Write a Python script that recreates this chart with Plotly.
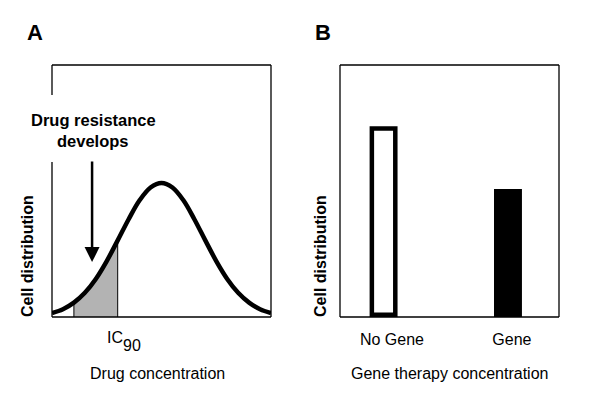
import plotly.graph_objects as go

# ---- Panel A data ----
curve_x = [0, 0.5, 1, 1.5, 2, 2.5, 3, 3.5, 4, 4.5, 5, 5.5, 6, 6.5, 7, 7.5, 8, 8.5, 9, 9.5, 10]
curve_y = [1.6, 3.1, 5.7, 9.6, 15.1, 22.2, 30.4, 38.8, 46.3, 51.4, 53.2,
           51.4, 46.3, 38.8, 30.4, 22.2, 15.1, 9.6, 5.7, 3.1, 1.6]
shade_x = [1.0, 1.0, 1.25, 1.5, 1.75, 2.0, 2.25, 2.5, 2.75, 3.0, 3.0]
shade_y = [0, 5.7, 7.4, 9.6, 12.1, 15.1, 18.5, 22.2, 26.2, 30.4, 0]
arrow_x = 1.83
arrow_tail_y = 62.3
arrow_tip_y = 21.8

# ---- Panel B data ----
bar_x = [1.99, 7.67]
bar_values = [73.9, 49.0]
bar_colors = ["white", "black"]
bar_tick_vals = [2.37, 7.85]
bar_tick_text = ["No Gene", "Gene"]

FONT = "Liberation Sans, Arial, Helvetica, sans-serif"

fig = go.Figure()

fig.add_trace(go.Scatter(x=shade_x, y=shade_y, mode="lines", fill="toself",
                         fillcolor="#b3b3b3", line=dict(color="black", width=1),
                         xaxis="x", yaxis="y", showlegend=False, hoverinfo="skip"))
fig.add_trace(go.Scatter(x=curve_x, y=curve_y, mode="lines",
                         line=dict(color="black", width=4.5, shape="spline"),
                         xaxis="x", yaxis="y", showlegend=False))
fig.add_trace(go.Bar(x=bar_x, y=bar_values, width=[1.07, 1.07],
                     marker=dict(color=bar_colors, line=dict(color="black", width=4.5)),
                     xaxis="x2", yaxis="y2", showlegend=False))

ydom = [(413 - 317) / 413, (413 - 65) / 413]
ax_common = dict(showgrid=False, zeroline=False, showline=False, ticks="")
fig.update_layout(
    width=600, height=413, margin=dict(l=0, r=0, t=0, b=0),
    paper_bgcolor="white", plot_bgcolor="white",
    font=dict(family=FONT, color="black"),
    xaxis=dict(domain=[52 / 600, 271 / 600], range=[0, 10], showticklabels=False, **ax_common),
    yaxis=dict(domain=ydom, range=[0, 100], showticklabels=False, **ax_common),
    xaxis2=dict(domain=[340 / 600, 559 / 600], range=[0, 10], anchor="y2",
                tickvals=bar_tick_vals, ticktext=bar_tick_text, ticklabelstandoff=11,
                tickfont=dict(size=16, family=FONT, color="black"), **ax_common),
    yaxis2=dict(domain=ydom, range=[-0.9, 99.1], anchor="x2", showticklabels=False, **ax_common),
)

def line(xref, yref, x0, y0, x1, y1, w=1.3):
    return dict(type="line", xref=xref, yref=yref, x0=x0, y0=y0, x1=x1, y1=y1,
                line=dict(color="black", width=w), layer="above")

shapes = [
    line("x domain", "y domain", 0, 1, 1, 1),
    line("x domain", "y domain", 1, 0, 1, 1),
    line("x domain", "y domain", 0, 0, 1, 0, 1.6),
    line("x domain", "y domain", 0, 1, 0, 0.881),
    line("x domain", "y domain", 0, 0.615, 0, 0),
    line("x2 domain", "y2 domain", 0, 1, 1, 1),
    line("x2 domain", "y2 domain", 1, 0, 1, 1),
    line("x2 domain", "y2 domain", 0, 0, 1, 0, 1.6),
    line("x2 domain", "y2 domain", 0, 0, 0, 1),
]
fig.update_layout(shapes=shapes)

def py(ypx):
    return 1 - ypx / 413

ann = [
    dict(text="<b>A</b>", x=35 / 600, y=py(32), font=dict(size=22)),
    dict(text="<b>B</b>", x=323 / 600, y=py(32), font=dict(size=22)),
    dict(text="<b>Cell distribution</b>", x=27 / 600, y=py(256), textangle=-90, font=dict(size=16)),
    dict(text="<b>Cell distribution</b>", x=320 / 600, y=py(256), textangle=-90, font=dict(size=16)),
    dict(text="<b>Drug resistance</b>", x=93 / 600, y=py(120), font=dict(size=16.5)),
    dict(text="<b>develops</b>", x=93 / 600, y=py(141), font=dict(size=16.5)),
    dict(text="Drug concentration", x=157 / 600, y=py(373), font=dict(size=16)),
    dict(text="Gene therapy concentration", x=449 / 600, y=py(373), font=dict(size=16)),
    dict(text="IC", x=115 / 600, y=py(337), font=dict(size=16)),
    dict(text="90", x=132 / 600, y=py(345), font=dict(size=16)),
]
for a in ann:
    a.update(xref="paper", yref="paper", showarrow=False, xanchor="center", yanchor="middle")
    a["font"] = dict(family=FONT, color="black", size=a["font"]["size"])

ann.append(dict(x=arrow_x, y=arrow_tip_y, ax=arrow_x, ay=arrow_tail_y, xref="x", yref="y",
                axref="x", ayref="y", text="", showarrow=True, arrowhead=2,
                arrowsize=1.2, arrowwidth=2.5, arrowcolor="black", standoff=0))
fig.update_layout(annotations=ann)

fig.write_html("out.html", config={"displayModeBar": False},
               post_script="document.body.style.margin='0';document.body.style.padding='0';")
